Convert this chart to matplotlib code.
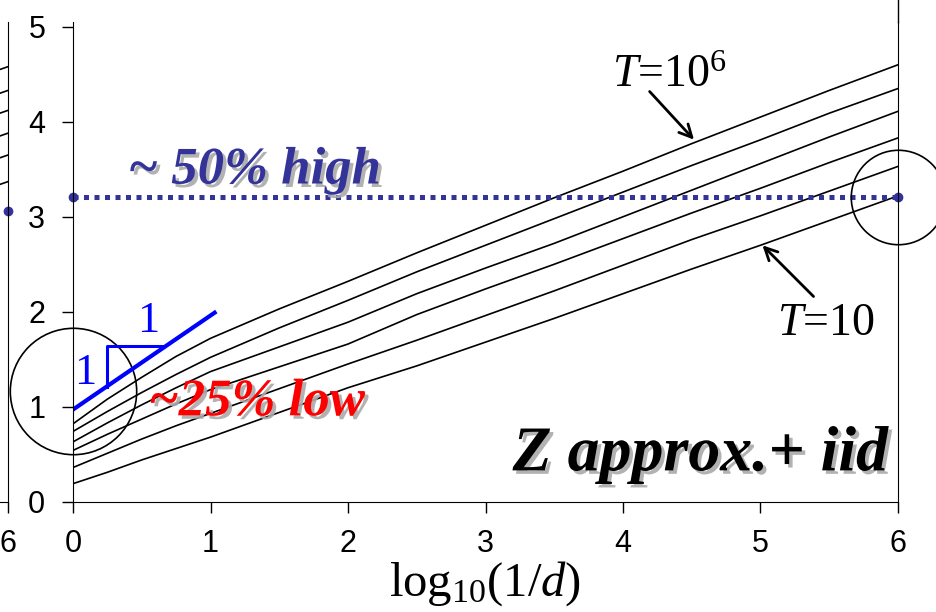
import matplotlib
matplotlib.use("Agg")
import matplotlib.pyplot as plt
import matplotlib.patheffects as pe

plt.rcParams['mathtext.fontset'] = 'custom'
plt.rcParams['mathtext.rm'] = 'Liberation Serif'
plt.rcParams['mathtext.it'] = 'Liberation Serif:italic'
plt.rcParams['mathtext.bf'] = 'Liberation Serif:bold'

# curves for T = 10^6 ... 10
x_vals = [0, 0.25, 0.5, 0.75, 1, 1.5, 2, 2.5, 3, 3.5, 4, 4.5, 5, 5.5, 6]
curve_T1e6 = [0.82, 1.08, 1.31, 1.53, 1.72, 2.03, 2.32, 2.62, 2.91, 3.20, 3.48, 3.77, 4.05, 4.33, 4.60]
curve_T1e5 = [0.74, 0.95, 1.15, 1.34, 1.52, 1.83, 2.12, 2.42, 2.70, 2.98, 3.26, 3.54, 3.81, 4.09, 4.35]
curve_T1e4 = [0.63, 0.83, 1.02, 1.20, 1.37, 1.63, 1.89, 2.19, 2.46, 2.72, 3.00, 3.28, 3.56, 3.84, 4.11]
curve_T1e3 = [0.54, 0.71, 0.87, 1.03, 1.18, 1.42, 1.66, 1.97, 2.24, 2.50, 2.77, 3.04, 3.30, 3.57, 3.83]
curve_T1e2 = [0.36, 0.51, 0.66, 0.80, 0.93, 1.19, 1.45, 1.70, 1.96, 2.22, 2.49, 2.76, 3.01, 3.27, 3.53]
curve_T10 = [0.19, 0.31, 0.44, 0.56, 0.68, 0.94, 1.20, 1.43, 1.68, 1.93, 2.19, 2.45, 2.70, 2.96, 3.22]
curves = [curve_T1e6, curve_T1e5, curve_T1e4, curve_T1e3, curve_T1e2, curve_T10]

high_level = 3.21
slope_x = [0, 1.03]
slope_y = [0.97, 1.99]
tri_x = [0.245, 0.245, 0.645]
tri_y = [1.21, 1.64, 1.64]

# neighbouring panel (only its right edge shows)
left_x = [5, 6]
left_ends = [[4.08, 4.58], [3.83, 4.33], [3.62, 4.12], [3.38, 3.88], [3.15, 3.65], [2.87, 3.37]]
left_dot = 3.06

x_ticks = [0, 1, 2, 3, 4, 5, 6]
y_ticks = [0, 1, 2, 3, 4, 5]

fig = plt.figure(figsize=(9.36, 6.12), dpi=100)
ax = fig.add_axes([0.078, 0.1802, 0.8814, 0.7838])

for c in curves:
    ax.plot(x_vals, c, color='black', lw=1.2)

ax.set_xlim(0, 6)
ax.set_ylim(0, 5.05)
ax.set_xticks(x_ticks)
ax.set_yticks(y_ticks)
ax.tick_params(direction='out', length=8, width=1, labelsize=22, pad=12)
for lab in ax.get_xticklabels() + ax.get_yticklabels():
    lab.set_family('Liberation Sans')
ax.spines['top'].set_visible(False)
ax.plot([6, 6], [5.05, 5.4], color='black', lw=1, clip_on=False)

ax.set_xlabel(r'$\mathrm{log}_{10}(1/d)$', fontsize=35, labelpad=0)

# 50% high dotted line
ax.plot([0, 6], [high_level, high_level], color='#333399', lw=3.6,
        linestyle=(0, (1, 1.1)), dash_capstyle='butt', clip_on=False)
ax.plot([0, 6], [high_level, high_level], 'o', color='#333399', ms=6, clip_on=False)

# circles
ax.plot(0, 1.17, 'o', mfc='none', mec='black', ms=91, mew=1.2, clip_on=False)
ax.plot(6, high_level, 'o', mfc='none', mec='black', ms=68, mew=1.2, clip_on=False)

# slope triangle
ax.plot(slope_x, slope_y, color='#0000FF', lw=3)
ax.plot(tri_x, tri_y, color='#0000FF', lw=2.2)
ax.text(0.09, 1.35, '1', color='#0000FF', fontsize=32, family='Liberation Serif',
        ha='center', va='center')
ax.text(0.55, 1.90, '1', color='#0000FF', fontsize=32, family='Liberation Serif',
        ha='center', va='center')

shadow = [pe.withSimplePatchShadow(offset=(2.5, -2.5), shadow_rgbFace='#aaaaaa', alpha=0.9)]
ax.text(0.40, 3.35, '~ 50% high', color='#333399', fontsize=38, family='Liberation Serif',
        weight='bold', style='italic', path_effects=shadow)
ax.text(0.55, 0.91, '~25% low', color='#FF0000', fontsize=38, family='Liberation Serif',
        weight='bold', style='italic', path_effects=shadow)
ax.text(5.93, 0.33, 'Z approx.+ iid', color='black', fontsize=46, family='Liberation Serif',
        weight='bold', style='italic', ha='right', path_effects=shadow)

arrow = dict(arrowstyle='->, head_length=0.9, head_width=0.45', lw=2, color='black')
ax.annotate('', xy=(4.53, 3.79), xytext=(4.18, 4.34), arrowprops=arrow)
ax.annotate('', xy=(5.00, 2.72), xytext=(5.40, 2.14), arrowprops=arrow)
ax.text(3.92, 4.37, r'$T$=10$^{6}$', fontsize=33, family='Liberation Serif')
ax.text(5.12, 1.75, r'$T$=10', fontsize=33, family='Liberation Serif')

# partial panel at the far left
ax2 = fig.add_axes([0.00855 - 0.8814, 0.1802, 0.8814, 0.7838])
for seg in left_ends:
    ax2.plot(left_x, seg, color='black', lw=1.2)
ax2.plot(6, left_dot, 'o', color='#333399', ms=6, clip_on=False)
ax2.set_xlim(0, 6)
ax2.set_ylim(0, 5.05)
ax2.set_xticks([6])
ax2.set_yticks([])
ax2.tick_params(direction='out', length=8, width=1, labelsize=22, pad=12)
for lab in ax2.get_xticklabels():
    lab.set_family('Liberation Sans')
ax2.spines['top'].set_visible(False)
ax2.spines['left'].set_visible(False)

plt.savefig('out.png', dpi=100)
